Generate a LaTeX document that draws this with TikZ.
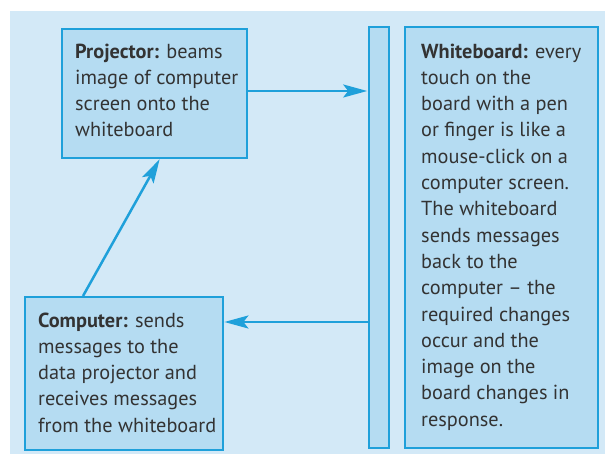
\documentclass[tikz,border=0pt]{standalone}
\usepackage{fontspec}
\setmainfont{PT Sans}
\usetikzlibrary{arrows.meta,calc}
\definecolor{panel}{HTML}{D3E9F7}
\definecolor{boxfill}{HTML}{B5DCF2}
\definecolor{edge}{HTML}{1FA0DA}
\definecolor{ink}{HTML}{333333}
\tikzset{
  box/.style={draw=edge,fill=boxfill,line width=1.6pt,inner sep=0pt,anchor=north west},
  txt/.style={inner sep=0pt,anchor=north west,align=left,text=ink,font=\fontsize{20.3}{26.3}\selectfont},
  arr/.style={draw=edge,line width=2.5pt,shorten >=0.8pt,-{Stealth[length=24pt,width=13pt,inset=5pt]}}
}
\begin{document}
\begin{tikzpicture}[x=1pt,y=1pt]
\useasboundingbox (0,0) rectangle (605,-454);
\fill[panel] (10,-11) rectangle (605,-454);
\node[box,minimum width=185pt,minimum height=129pt] (proj) at (61,-28) {};
\node[box,minimum width=20pt,minimum height=421pt] (bar) at (368,-26) {};
\node[box,minimum width=193pt,minimum height=421pt] (wb) at (404,-26) {};
\node[box,minimum width=198pt,minimum height=153pt] (comp) at (24,-296) {};
\node[txt] (projt) at (75,-43.4) {\textbf{Projector:} beams\\image of computer\\screen onto the\\whiteboard};
\node[txt] (wbt) at (421,-43.4) {\textbf{Whiteboard:} every\\touch on the\\board with a pen\\or finger is like a\\mouse-click on a\\computer screen.\\The whiteboard\\sends messages\\back to the\\computer -- the\\required changes\\occur and the\\image on the\\board changes in\\response.};
\node[txt] (compt) at (38,-312.4) {\textbf{Computer:} sends\\messages to the\\data projector and\\receives messages\\from the whiteboard};
\coordinate (pe) at (proj.east |- 0,-91);
\draw[arr] (pe) -- (pe -| bar.west);
\coordinate (be) at (bar.west |- 0,-322);
\draw[arr] (be) -- (be -| comp.east);
\coordinate (cn) at ($(comp.north west)+(59,0)$);
\coordinate (ps) at ($(proj.south west)+(99,0)$);
\draw[arr] (cn) -- (ps);
\end{tikzpicture}
\end{document}
